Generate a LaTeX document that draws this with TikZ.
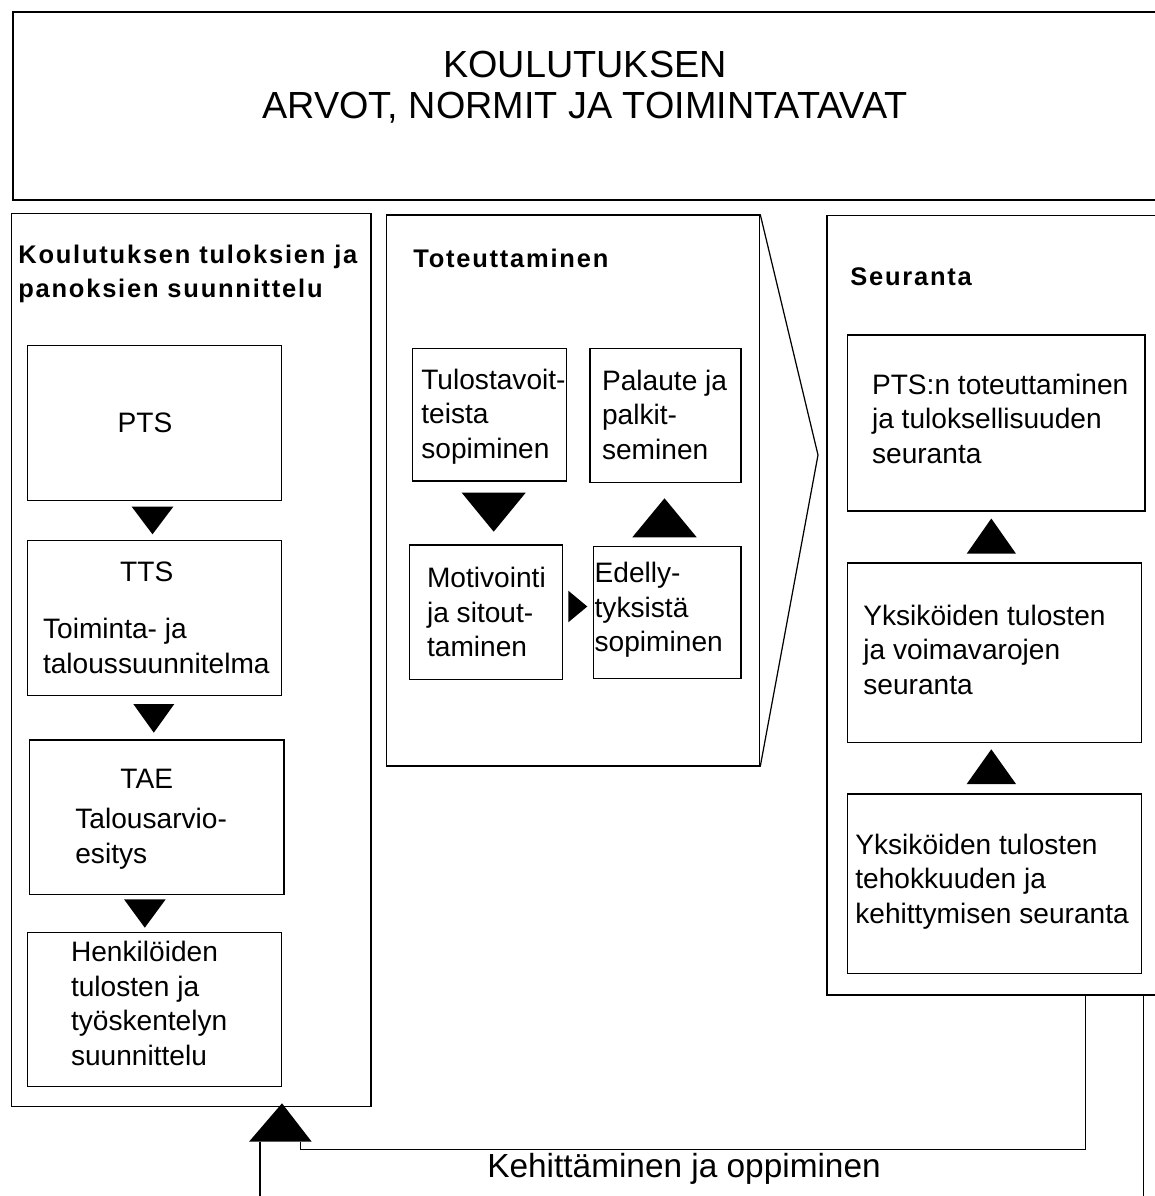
\documentclass[tikz,border=0pt]{standalone}
\usepackage{fontspec}
\setmainfont{Liberation Sans}
\newfontfamily\spacedfont[LetterSpace=7]{Liberation Sans}
\usetikzlibrary{fit}

\begin{document}
\begin{tikzpicture}[x=0.02cm,y=-0.02cm,
  frame/.style={draw, line width=0.8pt, inner sep=0pt},
  headtext/.style={font=\fontsize{21.5}{23.8}\selectfont, align=center, anchor=base, inner sep=0pt},
  ttl/.style={font=\spacedfont\bfseries\fontsize{14.5}{19.3}\selectfont, align=left, anchor=base west, inner sep=0pt},
  body/.style={font=\fontsize{16}{19.6}\selectfont, align=left, anchor=base west, inner sep=0pt},
  label/.style={font=\fontsize{19}{22}\selectfont, anchor=base west, inner sep=0pt},
  head/.style={fill=black},
  link/.style={draw, line width=0.8pt}
]
\useasboundingbox (0,0) rectangle (1155,1196);
\clip (0,0) rectangle (1155,1196);

% values, norms and practices (multi-line texts are placed by their last baseline)
\node[frame, fit={(13,12) (1175,200)}] (values) {};
\node[headtext] (valuestext) at (585,119) {KOULUTUKSEN\\ARVOT, NORMIT JA TOIMINTATAVAT};

% the three phases
\node[frame, fit={(11.7,213.3) (371,1106.5)}] (plan) {};
\node[frame, fit={(386.5,215) (759.5,766)}] (impl) {};
\node[frame, fit={(827,215.6) (1175,995)}] (seur) {};

\node[ttl] (plantitle) at (18,297) {Koulutuksen tuloksien ja\\panoksien suunnittelu};
\node[ttl] (impltitle) at (413,267) {Toteuttaminen};
\node[ttl] (seurtitle) at (850,285) {Seuranta};

% planning column
\node[frame, fit={(27.7,345.7) (281.7,500.7)}] (pts) {};
\node[frame, fit={(27.7,540.7) (281.7,695.7)}] (tts) {};
\node[frame, fit={(29.3,740) (284,894.3)}] (tae) {};
\node[frame, fit={(27.7,932.3) (281.7,1086.5)}] (henk) {};

\node[body, anchor=base] (ptstext) at (145,432) {PTS};
\node[body, anchor=base] (ttsabbr) at (146.7,581.7) {TTS};
\node[body] (ttstext) at (42.7,673.3) {Toiminta- ja\\taloussuunnitelma};
\node[body, anchor=base] (taeabbr) at (146.7,788.3) {TAE};
\node[body] (taetext) at (75,863.3) {Talousarvio-\\esitys};
\node[body] (henktext) at (70.7,1065) {Henkilöiden\\tulosten ja\\työskentelyn\\suunnittelu};

\fill[head] (131.7,506.7) -- (173.3,506.7) -- (152.5,534.3) -- cycle;
\fill[head] (133.3,704) -- (174.3,704) -- (153.8,732.7) -- cycle;
\fill[head] (124,899.3) -- (165.7,899.3) -- (144.8,927.7) -- cycle;

% implementation cycle
\node[frame, fit={(412.3,348.3) (566.7,481)}] (tulos) {};
\node[frame, fit={(590,348.3) (741,482.3)}] (palaute) {};
\node[frame, fit={(409.3,545) (562.7,679.3)}] (motiv) {};
\node[frame, fit={(593.3,546.7) (741,678.3)}] (edel) {};

\node[body] (tulostext) at (421,458) {Tulostavoit-\\teista\\sopiminen};
\node[body] (palautetext) at (601.7,459) {Palaute ja\\palkit-\\seminen};
\node[body] (motivtext) at (426.7,656.7) {Motivointi\\ja sitout-\\taminen};
\node[body] (edeltext) at (594.3,651.7) {Edelly-\\tyksistä\\sopiminen};

\fill[head] (461.7,492.7) -- (525.7,492.7) -- (493.7,531.7) -- cycle;
\fill[head] (632.3,537.3) -- (696.7,537.3) -- (664.5,498.3) -- cycle;
\fill[head] (568.3,590.7) -- (568.3,622.3) -- (587.3,606.5) -- cycle;

% chevron pointing to the follow-up phase
\coordinate (chevtip) at (818,455);
\draw[line width=0.7pt] (impl.north east) -- (chevtip) -- (impl.south east);

% follow-up column
\node[frame, fit={(847.7,335) (1145,511)}] (seur1) {};
\node[frame, fit={(847.7,563) (1141.7,742.6)}] (seur2) {};
\node[frame, fit={(847.7,794) (1141.7,973.3)}] (seur3) {};

\node[body] (seur1text) at (871.7,463) {PTS:n toteuttaminen\\ja tuloksellisuuden\\seuranta};
\node[body] (seur2text) at (863,694.4) {Yksiköiden tulosten\\ja voimavarojen\\seuranta};
\node[body] (seur3text) at (855,923.3) {Yksiköiden tulosten\\tehokkuuden ja\\kehittymisen seuranta};

\fill[head] (966.7,553.7) -- (1016,553.7) -- (991.3,518.5) -- cycle;
\fill[head] (966.7,784) -- (1016,784) -- (991.3,749.3) -- cycle;

% feedback loop: development and learning
\coordinate (loopin) at (300.7,1141.7);
\coordinate (loopout) at (260,1141.7);
\fill[head] (249,1141.7) -- (311.7,1141.7) -- (282,1103.3) -- cycle;
\draw[link] (1085.7,0 |- seur.south) -- (1085.7,1149.3) -- (loopin |- 0,1149.3) -- (loopin);
\draw[link] (loopout) -- (260,1210);
\draw[link] (1143.3,0 |- seur.south) -- (1143.3,1210);
\node[label] (looptext) at (487,1177) {Kehittäminen ja oppiminen};
\end{tikzpicture}
\end{document}
